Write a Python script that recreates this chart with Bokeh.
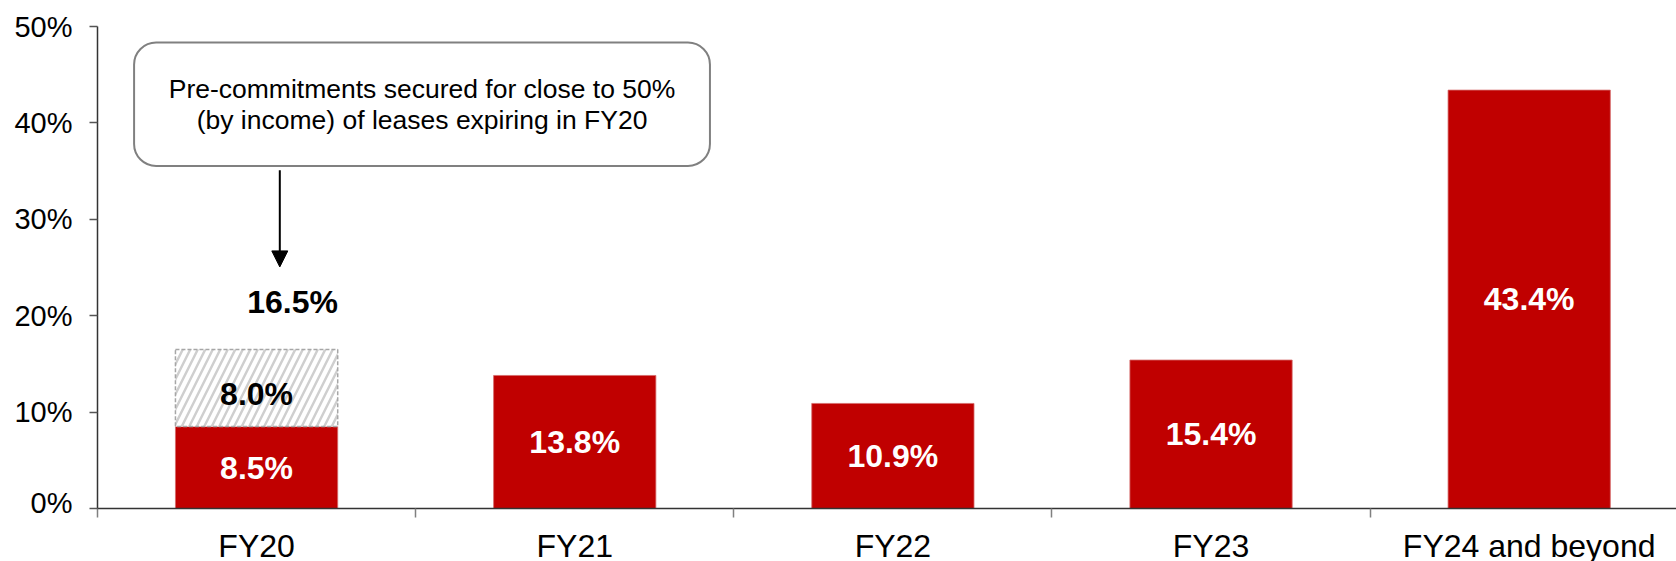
from bokeh.plotting import figure
from bokeh.layouts import column
from bokeh.models import (ColumnDataSource, Range1d, LinearAxis, FixedTicker,
                          BoxAnnotation, Arrow, NormalHead, Label)
from bokeh.core.properties import value
from bokeh.embed import file_html
from bokeh.resources import INLINE

# ---- data ----
categories = ["FY20", "FY21", "FY22", "FY23", "FY24 and beyond"]
expiring = [8.5, 13.8, 10.9, 15.4, 43.4]          # % of income expiring (red)
precommit_cats = ["FY20"]
precommit = [8.0]                                  # pre-committed portion (hatched)
y_ticks = [0, 10, 20, 30, 40, 50]
y_labels = ["0%", "10%", "20%", "30%", "40%", "50%"]

FONT = "Liberation Sans"
RED = "#C00000"

xs = [i + 0.5 for i in range(len(categories))]
x_range = Range1d(0, 4.963)

p = figure(width=1676, height=518, output_backend="svg", toolbar_location=None,
           x_range=x_range, y_range=Range1d(0, 50),
           min_border_left=97, min_border_right=0, min_border_top=26,
           min_border_bottom=10, x_axis_location=None, y_axis_location=None)
p.outline_line_color = None
p.grid.visible = False
p.background_fill_color = "white"
p.border_fill_color = "white"

# red bars
src = ColumnDataSource(dict(x=xs, top=expiring,
                            mid=[v / 2 for v in expiring],
                            lab=[f"{v:.1f}%" for v in expiring],
                            cat=categories))
p.vbar(x="x", top="top", bottom=0, width=0.51, source=src,
       fill_color=RED, line_color="#D46A6A", line_width=0.8)

# hatched pre-commitment segment
pidx = [categories.index(c) for c in precommit_cats]
pbottom = [expiring[i] for i in pidx]
ptop = [b + v for b, v in zip(pbottom, precommit)]
psrc = ColumnDataSource(dict(x=[xs[i] for i in pidx], bottom=pbottom, top=ptop,
                             mid=[b + v / 2 - 0.6 for b, v in zip(pbottom, precommit)],
                             lab=[f"{v:.1f}%" for v in precommit],
                             tot=[f"{t:.1f}%" for t in ptop]))
p.vbar(x="x", bottom="bottom", top="top", width=0.51, source=psrc,
       fill_color="white", hatch_pattern="/", hatch_color="#CFCFCF",
       hatch_weight=2.5, hatch_scale=15,
       line_color="#A6A6A6", line_dash="4 2", line_width=1.5)

# data labels
p.text(x="x", y="mid", text="lab", source=src, text_color="white",
       text_font=value(FONT), text_font_style="bold", text_font_size="32px",
       text_align="center", text_baseline="middle")
p.text(x="x", y="mid", text="lab", source=psrc, text_color="black",
       text_font=value(FONT), text_font_style="bold", text_font_size="32px",
       text_align="center", text_baseline="middle")
# total label above FY20
p.add_layout(Label(x=xs[pidx[0]] + 0.113, y=21.4, text=psrc.data["tot"][0],
                   text_font=FONT, text_font_style="bold", text_font_size="32px",
                   text_color="black", text_align="center", text_baseline="middle"))

# callout box
p.add_layout(BoxAnnotation(left=0.115, right=1.925, bottom=35.54, top=48.34,
                           fill_color="white", fill_alpha=1.0,
                           line_color="#808080", line_alpha=1.0, line_width=2,
                           border_radius=22, level="underlay"))
p.add_layout(Label(x=1.02, y=43.5, text="Pre-commitments secured for close to 50%",
                   text_font=FONT, text_font_size="26.5px", text_color="black",
                   text_align="center", text_baseline="middle"))
p.add_layout(Label(x=1.02, y=40.25, text="(by income) of leases expiring in FY20",
                   text_font=FONT, text_font_size="26.5px", text_color="black",
                   text_align="center", text_baseline="middle"))
p.add_layout(Arrow(end=NormalHead(size=16, fill_color="black", line_color="black"),
                   x_start=0.573, y_start=35.1, x_end=0.573, y_end=25.06,
                   line_color="black", line_width=2))

# x axis: category boundary ticks
xaxis = LinearAxis(ticker=FixedTicker(ticks=[], minor_ticks=list(range(len(categories)))))
xaxis.major_tick_line_color = None
xaxis.major_tick_out = 9
xaxis.major_tick_in = 0
xaxis.minor_tick_out = 9
xaxis.minor_tick_in = 0
xaxis.minor_tick_line_color = "#808080"
xaxis.minor_tick_line_width = 1.5
xaxis.axis_line_color = "#333333"
xaxis.axis_line_width = 1.5
xaxis.major_label_standoff = 0
p.add_layout(xaxis, "below")

yaxis = LinearAxis(ticker=FixedTicker(ticks=y_ticks, minor_ticks=[]),
                   major_label_overrides={t: l for t, l in zip(y_ticks, y_labels)})
yaxis.major_tick_out = 8
yaxis.major_tick_in = 0
yaxis.major_tick_line_color = "#555555"
yaxis.major_tick_line_width = 1.5
yaxis.minor_tick_line_color = None
yaxis.axis_line_color = "#333333"
yaxis.axis_line_width = 1.5
yaxis.major_label_standoff = 17
yaxis.major_label_text_font = FONT
yaxis.major_label_text_font_size = "29px"
yaxis.major_label_text_color = "black"
p.add_layout(yaxis, "left")

# category label strip, sharing the x scale of the chart
p2 = figure(width=1676, height=43, output_backend="svg", toolbar_location=None,
            x_range=x_range, y_range=Range1d(0, 1),
            min_border_left=97, min_border_right=0, min_border_top=0,
            min_border_bottom=0, x_axis_location=None, y_axis_location=None)
p2.outline_line_color = None
p2.grid.visible = False
p2.text(x="x", y=0.36, text="cat", source=src, text_color="black",
        text_font=value(FONT), text_font_size="32px",
        text_align="center", text_baseline="middle")

layout = column(p, p2, spacing=0)
open("out.html", "w").write(file_html(layout, INLINE))
